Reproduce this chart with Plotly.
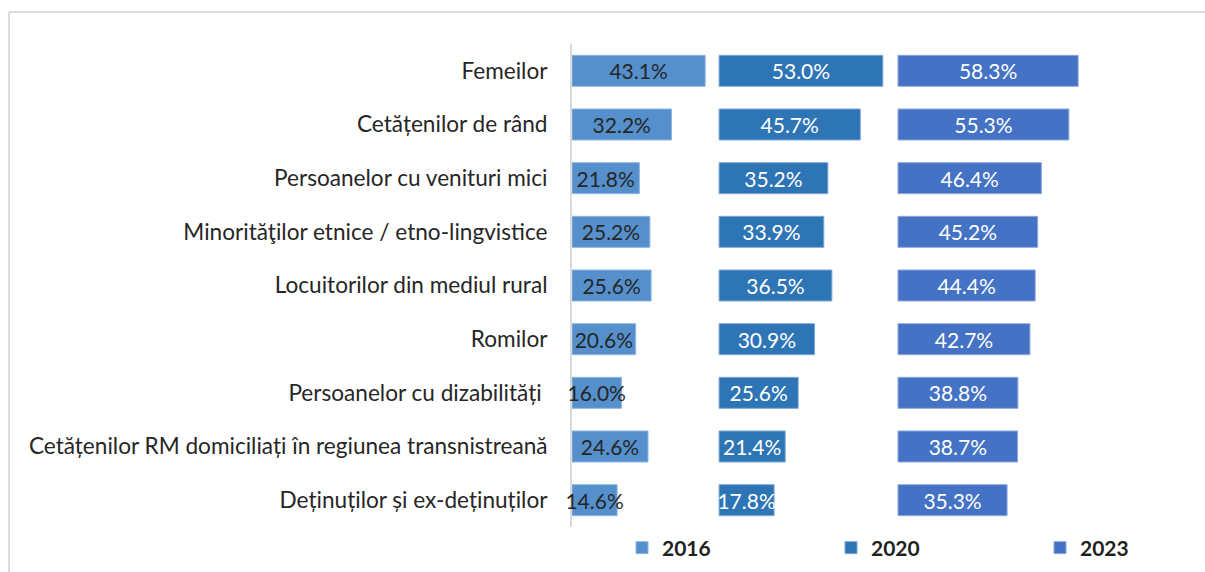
import plotly.graph_objects as go

categories = [
    "Femeilor",
    "Cetățenilor de rând",
    "Persoanelor cu venituri mici",
    "Minorităţilor etnice / etno-lingvistice",
    "Locuitorilor din mediul rural",
    "Romilor",
    "Persoanelor cu dizabilități\u00a0",
    "Cetățenilor RM domiciliați în regiunea transnistreană",
    "Deținuților și ex-deținuților",
]
years = ["2016", "2020", "2023"]
v2016 = [43.1, 32.2, 21.8, 25.2, 25.6, 20.6, 16.0, 24.6, 14.6]
v2020 = [53.0, 45.7, 35.2, 33.9, 36.5, 30.9, 25.6, 21.4, 17.8]
v2023 = [58.3, 55.3, 46.4, 45.2, 44.4, 42.7, 38.8, 38.7, 35.3]
series = [v2016, v2020, v2023]

# panel offsets (start of each small-multiple panel on the shared x scale)
panel_base = [0.0, 47.6, 105.5]
colors = ["#5590CC", "#2E75B6", "#4472C4"]
edge = ["#8FB6E0", "#7FA8D6", "#8FA8DC"]
label_colors = ["#262626", "#FFFFFF", "#FFFFFF"]

W, H = 1205, 572
ML, MR, MT, MB = 572, 0, 44, 45
PX_PER_UNIT = 3.09
FONT = "Lato"

fig = go.Figure()
for yr, vals, b, c, ec, lc in zip(years, series, panel_base, colors, edge, label_colors):
    fig.add_trace(go.Bar(
        name=yr,
        y=categories,
        x=vals,
        base=b,
        orientation="h",
        width=0.578,
        marker=dict(color=c, line=dict(color=ec, width=1)),
        text=[f"{v:.1f}%" for v in vals],
        textposition="inside",
        insidetextanchor="middle",
        textangle=0,
        constraintext="none",
        cliponaxis=False,
        insidetextfont=dict(family=FONT, size=21, color=lc),
        hovertemplate="%{y}<br>" + yr + ": %{text}<extra></extra>",
    ))

pw = W - ML - MR
ph = H - MT - MB
def px_x(p):
    return (p - ML) / pw
def px_y(p):
    return (H - MB - p) / ph

fig.update_layout(
    width=W, height=H,
    margin=dict(l=ML, r=MR, t=MT, b=MB, pad=0, autoexpand=False),
    paper_bgcolor="white",
    plot_bgcolor="white",
    barmode="overlay",
    font=dict(family=FONT, color="#262626"),
    xaxis=dict(range=[0, pw / PX_PER_UNIT], visible=False, fixedrange=True),
    yaxis=dict(
        categoryorder="array", categoryarray=categories,
        autorange=False, range=[8.5, -0.5],
        showline=True, linecolor="#D9D9D9", linewidth=2,
        layer="below traces",
        showgrid=False, zeroline=False,
        ticks="outside", ticklen=18, tickcolor="rgba(0,0,0,0)",
        tickfont=dict(family=FONT, size=22.6, color="#262626"),
        fixedrange=True,
    ),
    legend=dict(
        orientation="h",
        x=px_x(622), xanchor="left",
        y=px_y(548), yanchor="middle",
        entrywidth=164, entrywidthmode="pixels",
        font=dict(family=FONT, size=21, color="#1F1F1F", weight="bold"),
        bgcolor="rgba(0,0,0,0)",
        traceorder="normal",
    ),
    shapes=[
        dict(type="line", xref="paper", yref="paper",
             x0=px_x(9), x1=px_x(W + 5), y0=px_y(12), y1=px_y(12),
             line=dict(color="#D0D0D0", width=1.5)),
        dict(type="line", xref="paper", yref="paper",
             x0=px_x(9), x1=px_x(9), y0=px_y(12), y1=px_y(H + 5),
             line=dict(color="#D0D0D0", width=1.5)),
    ],
    showlegend=True,
)

fig.write_html(
    "out.html",
    config={"displayModeBar": False},
    post_script="document.body.style.margin='0';document.body.style.overflow='hidden';",
)
